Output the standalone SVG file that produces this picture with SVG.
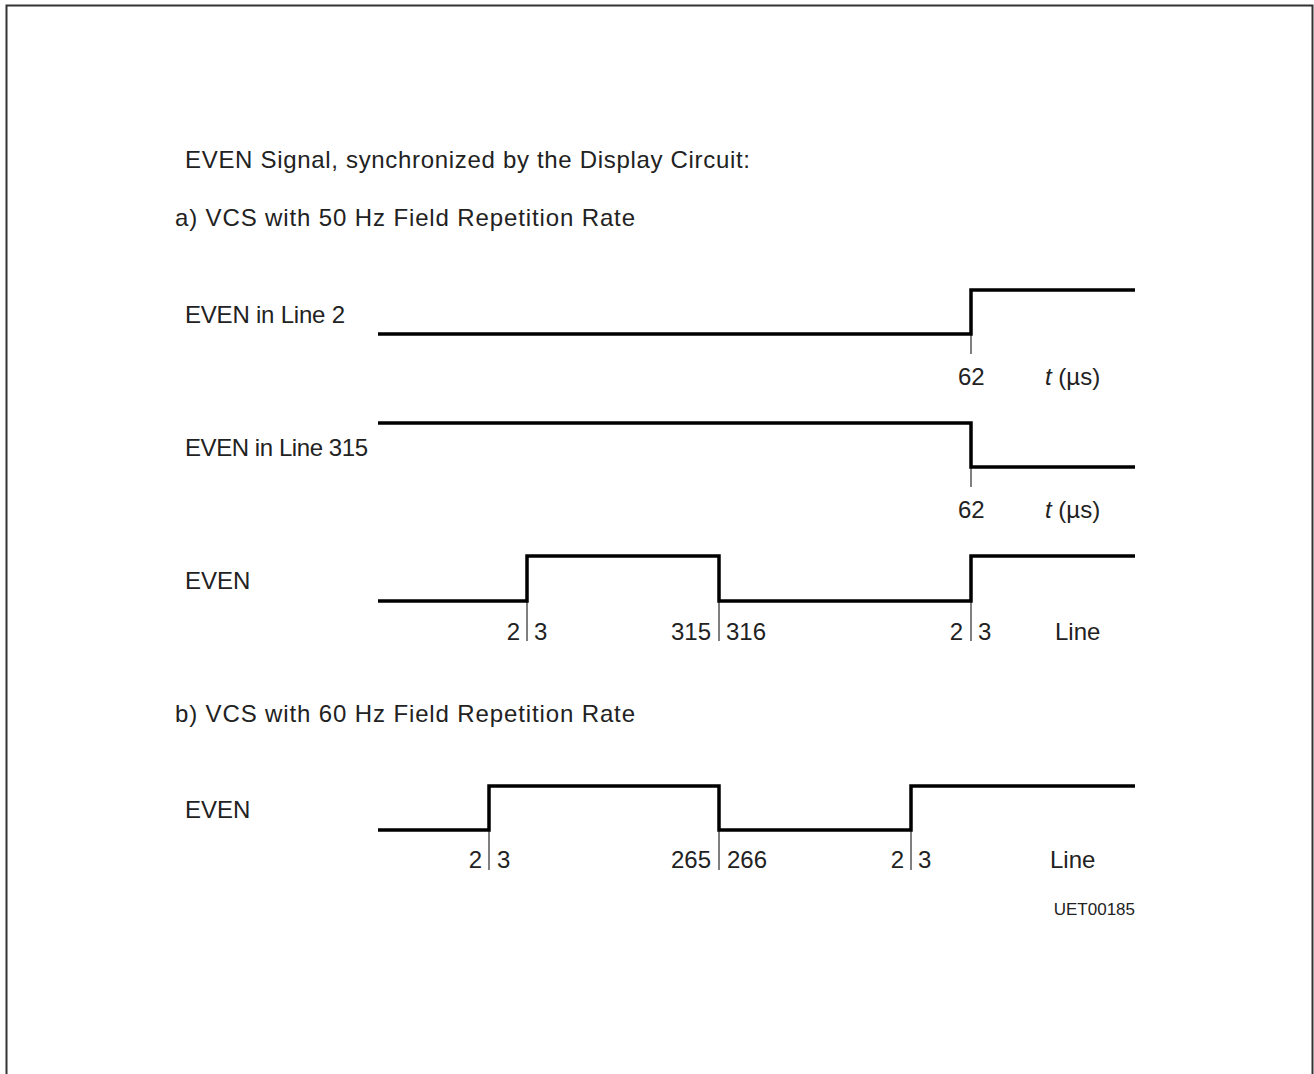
<svg xmlns="http://www.w3.org/2000/svg" width="1314" height="1074" viewBox="0 0 1314 1074">
<style>
text{font-family:"Liberation Sans","DejaVu Sans",sans-serif;font-size:24px;fill:#222}
.sig{fill:none;stroke:#000;stroke-width:3.5;stroke-linejoin:miter}
.tick{stroke:#000;stroke-width:1}
.sm{font-size:17px}
</style>
<rect x="6.5" y="5.5" width="1306" height="1080" fill="#fff" stroke="#333" stroke-width="2"/>
<g id="titles">
<text x="185" y="168" textLength="565">EVEN Signal, synchronized by the Display Circuit:</text>
<text x="175" y="226" textLength="460">a) VCS with 50 Hz Field Repetition Rate</text>
<text x="175" y="722" textLength="460">b) VCS with 60 Hz Field Repetition Rate</text>
</g>
<g id="sig-line2">
<text x="185" y="323" textLength="160">EVEN in Line 2</text>
<path class="sig" d="M378 334H971V290H1135"/>
<line class="tick" x1="971" y1="334" x2="971" y2="354"/>
<text x="958" y="385">62</text>
<text x="1045" y="385"><tspan font-style="italic">t</tspan> (µs)</text>
</g>
<g id="sig-line315">
<text x="185" y="456" textLength="183">EVEN in Line 315</text>
<path class="sig" d="M378 423H971V467H1135"/>
<line class="tick" x1="971" y1="467" x2="971" y2="487"/>
<text x="958" y="518">62</text>
<text x="1045" y="518"><tspan font-style="italic">t</tspan> (µs)</text>
</g>
<g id="sig-even-a">
<text x="185" y="589">EVEN</text>
<path class="sig" d="M378 601H527V556H719V601H971V556H1135"/>
<line class="tick" x1="527" y1="601" x2="527" y2="641"/>
<line class="tick" x1="719" y1="601" x2="719" y2="641"/>
<line class="tick" x1="971" y1="601" x2="971" y2="641"/>
<text x="520" y="640" text-anchor="end">2</text>
<text x="534" y="640">3</text>
<text x="711" y="640" text-anchor="end">315</text>
<text x="726" y="640">316</text>
<text x="963" y="640" text-anchor="end">2</text>
<text x="978" y="640">3</text>
<text x="1055" y="640">Line</text>
</g>
<g id="sig-even-b">
<text x="185" y="818">EVEN</text>
<path class="sig" d="M378 830H489V786H719V830H911V786H1135"/>
<line class="tick" x1="489" y1="830" x2="489" y2="870"/>
<line class="tick" x1="719" y1="830" x2="719" y2="870"/>
<line class="tick" x1="911" y1="830" x2="911" y2="870"/>
<text x="482" y="868" text-anchor="end">2</text>
<text x="497" y="868">3</text>
<text x="711" y="868" text-anchor="end">265</text>
<text x="727" y="868">266</text>
<text x="904" y="868" text-anchor="end">2</text>
<text x="918" y="868">3</text>
<text x="1050" y="868">Line</text>
</g>
<text class="sm" x="1135" y="915" text-anchor="end">UET00185</text>
</svg>
